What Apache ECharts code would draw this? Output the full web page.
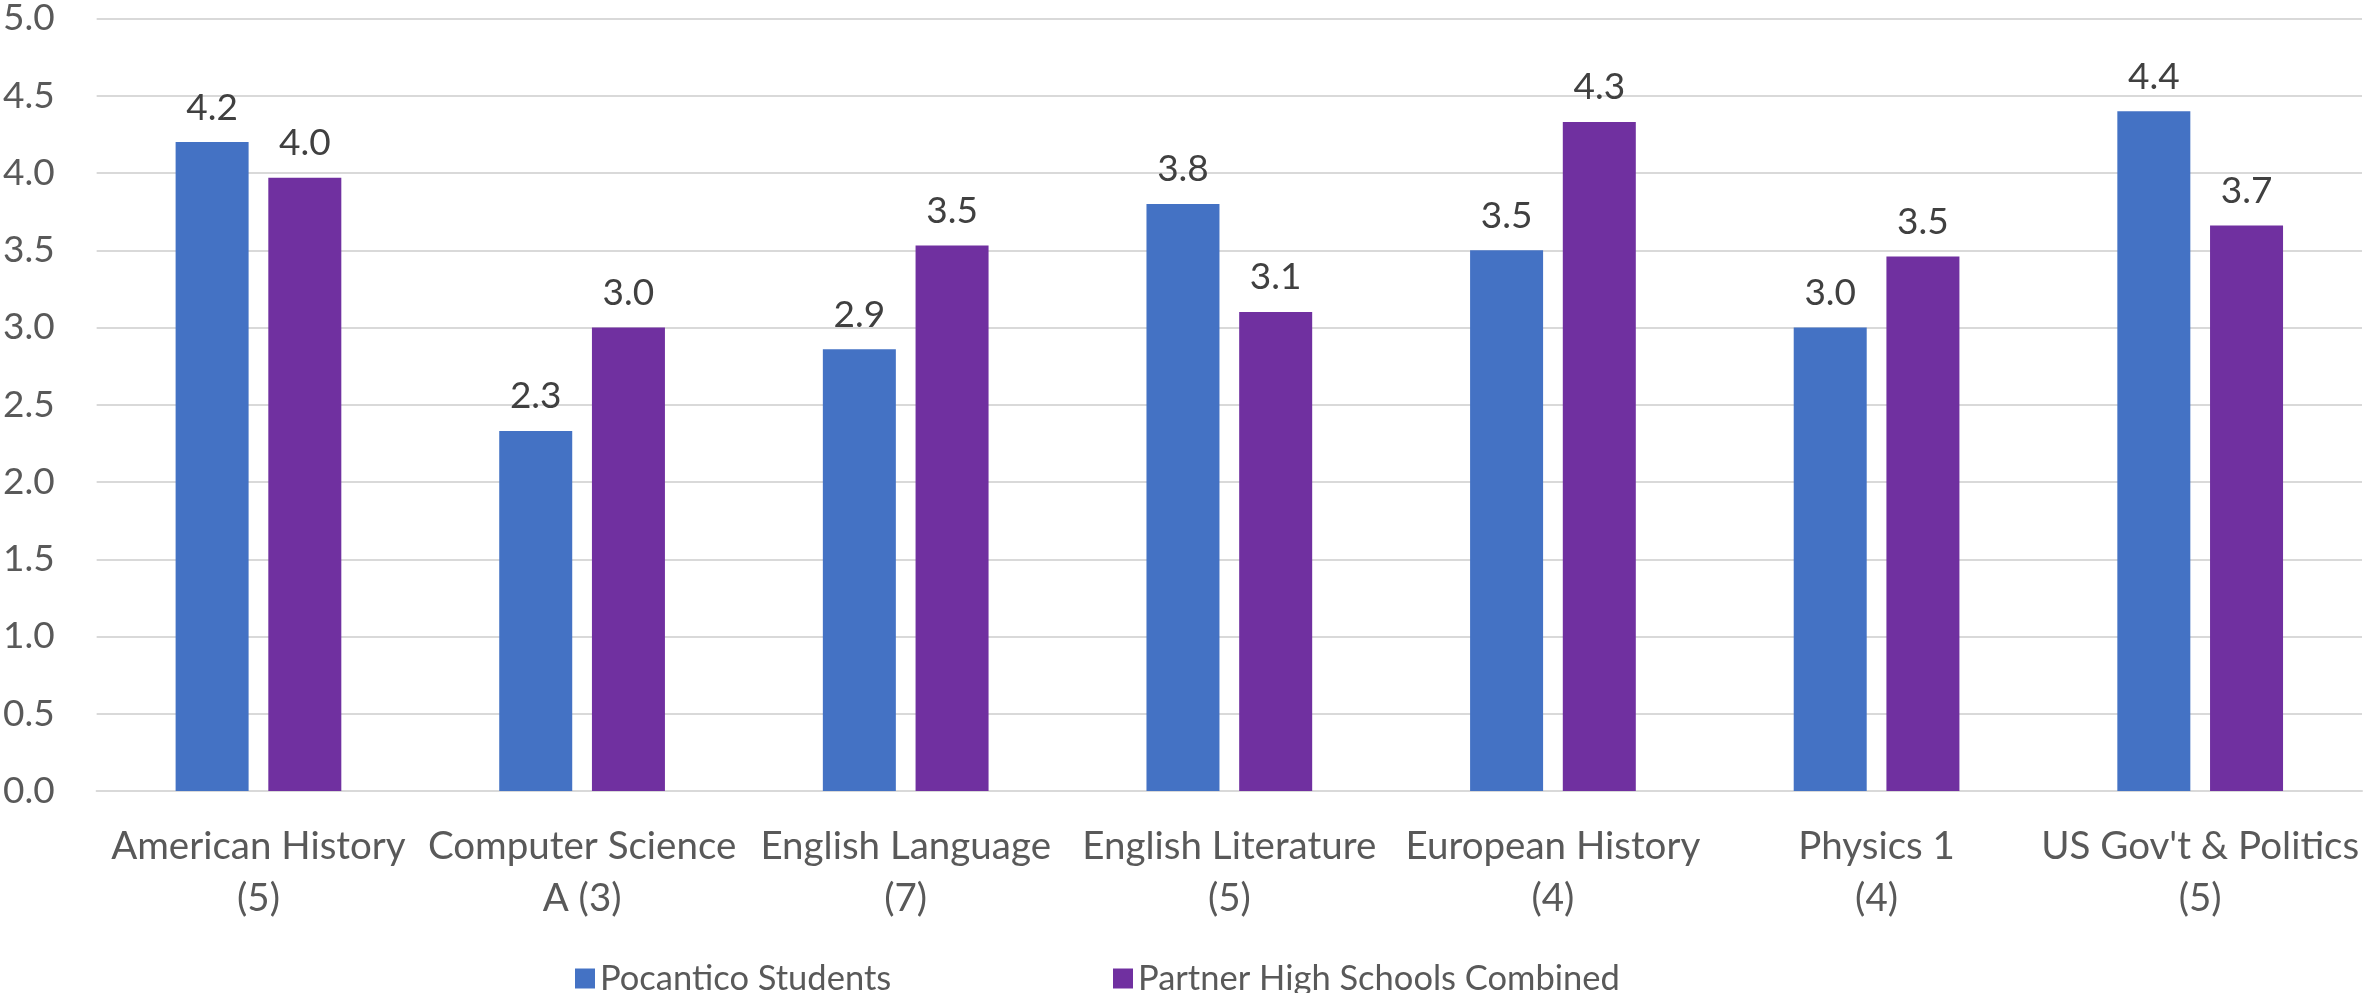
<!DOCTYPE html>
<html>
<head>
<meta charset="utf-8">
<script src="https://cdn.jsdelivr.net/npm/echarts@6/dist/echarts.min.js"></script>
<style>
html,body{margin:0;padding:0;background:#fff;}
#chart{width:2364px;height:993px;}
</style>
</head>
<body>
<div id="chart"></div>
<script>
const categories = [
  "American History\n(5)",
  "Computer Science\nA (3)",
  "English Language\n(7)",
  "English Literature\n(5)",
  "European History\n(4)",
  "Physics 1\n(4)",
  "US Gov't & Politics\n(5)"
];
const seriesNames = ["Pocantico Students", "Partner High Schools Combined"];
const pocantico = [4.20, 2.33, 2.86, 3.80, 3.50, 3.00, 4.40];
const partner = [3.97, 3.00, 3.53, 3.10, 4.33, 3.46, 3.66];
const yTicks = { min: 0, max: 5, interval: 0.5 };

const FONT = 'Lato, "Noto Sans", sans-serif';
const FS = 37;

const chart = echarts.init(document.getElementById('chart'));
const labelCfg = {
  show: true,
  position: 'top',
  distance: 16,
  color: '#404040',
  fontFamily: FONT,
  fontSize: FS,
  formatter: p => p.value.toFixed(1)
};
chart.setOption({
  animation: false,
  color: ['#4472C4', '#7030A0'],
  grid: { left: 94, right: 2, top: 17, bottom: 202, containLabel: false },
  legend: [
    {
      data: [seriesNames[0]], left: 570, top: 956,
      itemWidth: 20, itemHeight: 20, itemGap: 11,
      icon: 'rect',
      textStyle: { color: '#595959', fontFamily: FONT, fontSize: 34.5 }
    },
    {
      data: [seriesNames[1]], left: 1108, top: 956,
      itemWidth: 20, itemHeight: 20, itemGap: 11,
      icon: 'rect',
      textStyle: { color: '#595959', fontFamily: FONT, fontSize: 34.5 }
    }
  ],
  xAxis: {
    type: 'category',
    data: categories,
    axisTick: { show: false },
    axisLine: { show: true, lineStyle: { color: '#D9D9D9', width: 2 } },
    axisLabel: {
      color: '#595959', fontFamily: FONT, fontSize: 38.5, lineHeight: 52,
      margin: 30, interval: 0
    }
  },
  yAxis: {
    type: 'value',
    min: yTicks.min, max: yTicks.max, interval: yTicks.interval,
    axisLine: { show: false },
    axisTick: { show: false },
    splitLine: { lineStyle: { color: '#D9D9D9', width: 2 } },
    axisLabel: {
      color: '#595959', fontFamily: FONT, fontSize: FS,
      margin: 42,
      formatter: v => v.toFixed(1)
    }
  },
  series: [
    { name: seriesNames[0], type: 'bar', data: pocantico, barWidth: 73, barGap: '27%', label: labelCfg },
    { name: seriesNames[1], type: 'bar', data: partner, barWidth: 73, barGap: '27%', label: labelCfg }
  ]
});
</script>
</body>
</html>
